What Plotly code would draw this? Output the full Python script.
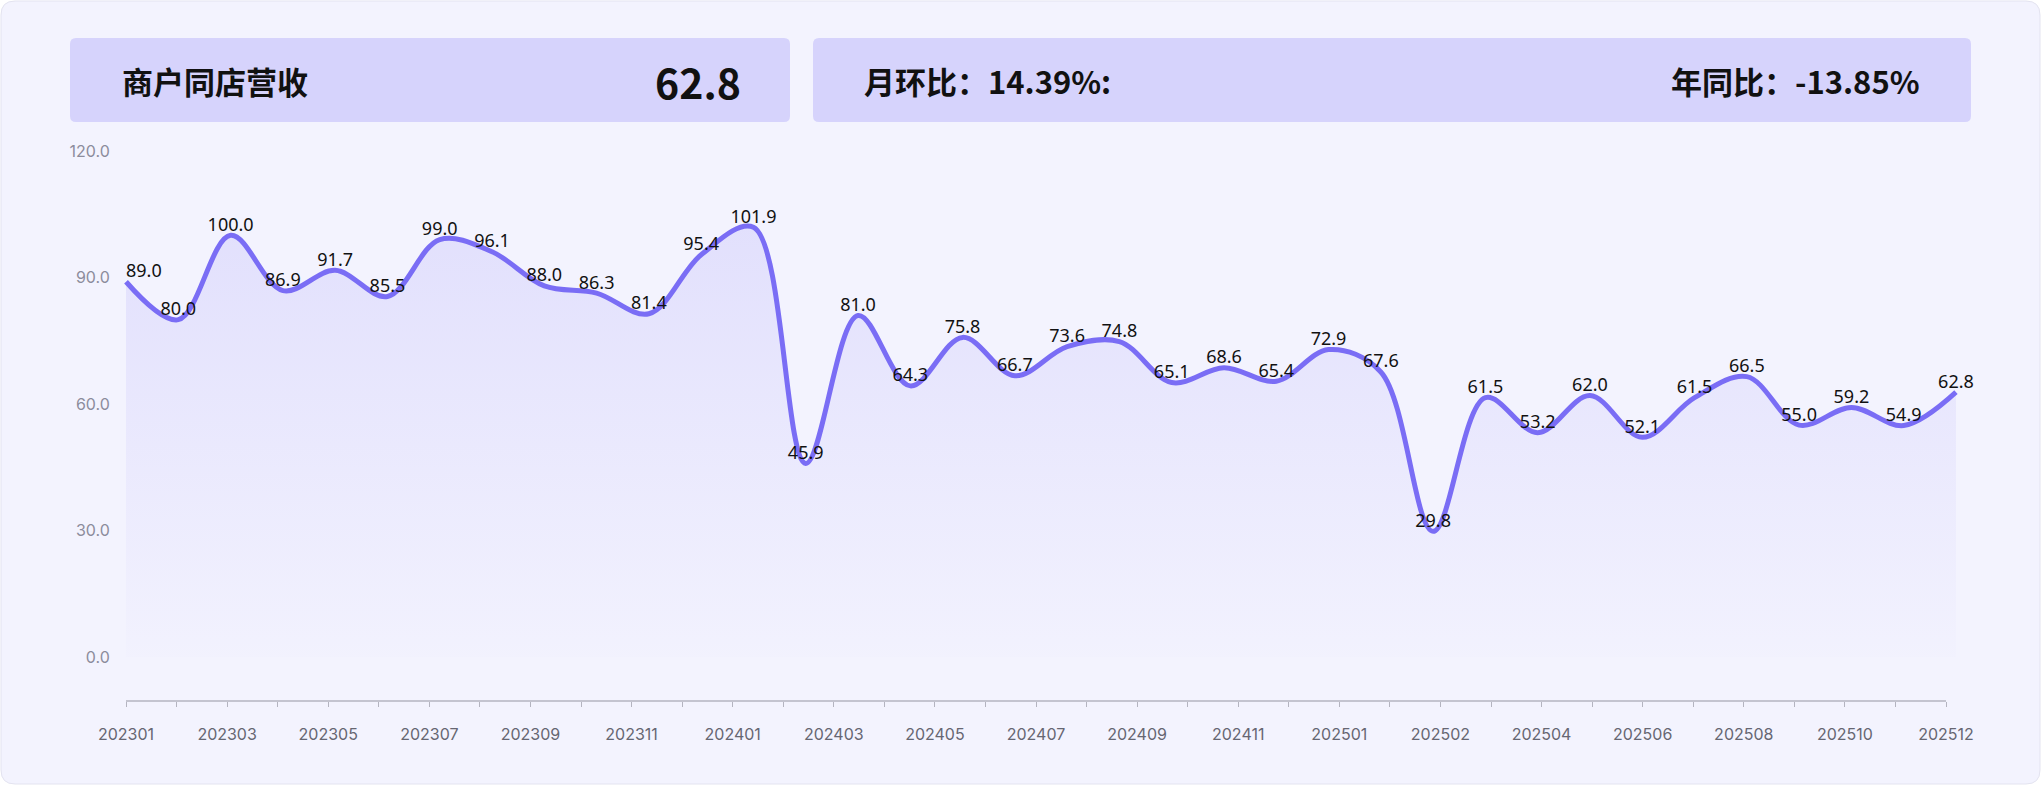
import plotly.graph_objects as go

# ---------------- data ----------------
months = [f"{y}{m:02d}" for y in (2023, 2024, 2025) for m in range(1, 13)]
revenue = [89.0, 80.0, 100.0, 86.9, 91.7, 85.5, 99.0, 96.1, 88.0, 86.3, 81.4, 95.4,
           101.9, 45.9, 81.0, 64.3, 75.8, 66.7, 73.6, 74.8, 65.1, 68.6, 65.4, 72.9,
           67.6, 29.8, 61.5, 53.2, 62.0, 52.1, 61.5, 66.5, 55.0, 59.2, 54.9, 62.8]
axis_tick_labels = ["202301", "", "202303", "", "202305", "", "202307", "", "202309", "",
                    "202311", "", "202401", "", "202403", "", "202405", "", "202407", "",
                    "202409", "", "202411", "", "202501", "", "202502", "", "202504", "",
                    "202506", "", "202508", "", "202510", "", "202512"]
y_ticks = [0, 30, 60, 90, 120]
kpi_title = "商户同店营收"
kpi_value = "62.8"
mom_text = "月环比：14.39%:"
yoy_text = "年同比：-13.85%"

# ---------------- layout constants ----------------
W, H = 2041, 785
PAGE_BG = "#F3F3FE"
CARD_BG = "#D6D3FC"
LINE = "#7A6DF5"


def px_x(x):
    return x / W


def px_y(y):
    return 1 - y / H


def rounded_rect(x0, y0, x1, y1, r):
    X0, X1 = px_x(x0), px_x(x1)
    Y0, Y1 = px_y(y0), px_y(y1)
    rx, ry = r / W, r / H
    return (f"M {X0+rx},{Y0} L {X1-rx},{Y0} Q {X1},{Y0} {X1},{Y0-ry} "
            f"L {X1},{Y1+ry} Q {X1},{Y1} {X1-rx},{Y1} L {X0+rx},{Y1} "
            f"Q {X0},{Y1} {X0},{Y1+ry} L {X0},{Y0-ry} Q {X0},{Y0} {X0+rx},{Y0} Z")


plot_left, plot_right = 120.8, 1961.2
plot_top, plot_bottom = 151, 701

text_pos = ["top right"] + ["top center"] * (len(revenue) - 1)

fig = go.Figure()
fig.add_trace(go.Scatter(
    x=months, y=revenue, mode="lines+text",
    line=dict(color=LINE, width=5, shape="spline", smoothing=1.0),
    fill="tozeroy",
    fillgradient=dict(type="vertical", start=0, stop=110,
                      colorscale=[[0, "rgba(122,108,244,0.01)"], [1, "rgba(122,108,244,0.15)"]]),
    text=[f"{v:.1f}" for v in revenue], textposition=text_pos,
    textfont=dict(family="Noto Sans, Inter", size=18, color="#111111"),
    cliponaxis=False, hoverinfo="skip", showlegend=False,
))

fig.add_trace(go.Scatter(x=[0, 36], y=[None, None], xaxis="x2", mode="lines",
                         showlegend=False, hoverinfo="skip"))

shapes = [
    dict(type="path", xref="paper", yref="paper", path=rounded_rect(1, 1, W - 1, H - 1, 14),
         fillcolor=PAGE_BG, line=dict(color="#E3E3F0", width=1), layer="below"),
    dict(type="path", xref="paper", yref="paper", path=rounded_rect(70, 38, 790, 122, 6),
         fillcolor=CARD_BG, line=dict(width=0), layer="below"),
    dict(type="path", xref="paper", yref="paper", path=rounded_rect(813, 38, 1971, 122, 6),
         fillcolor=CARD_BG, line=dict(width=0), layer="below"),
    dict(type="line", xref="x2", yref="paper", x0=0, x1=36,
         y0=px_y(plot_bottom), y1=px_y(plot_bottom), line=dict(color="#B4B4C0", width=1.5)),
]

cjk = "Noto Sans CJK SC"
annotations = [
    dict(text=f"<b>{kpi_title}</b>", x=px_x(120), y=px_y(81), xref="paper", yref="paper",
         xanchor="left", yanchor="middle", showarrow=False,
         font=dict(family=cjk, size=31, color="#111111")),
    dict(text=f"<b>{kpi_value}</b>", x=px_x(743), y=px_y(81), xref="paper", yref="paper",
         xanchor="right", yanchor="middle", showarrow=False,
         font=dict(family=cjk, size=41, color="#111111")),
    dict(text=f"<b>{mom_text}</b>", x=px_x(862), y=px_y(81), xref="paper", yref="paper",
         xanchor="left", yanchor="middle", showarrow=False,
         font=dict(family=cjk, size=31, color="#111111")),
    dict(text=f"<b>{yoy_text}</b>", x=px_x(1922), y=px_y(81), xref="paper", yref="paper",
         xanchor="right", yanchor="middle", showarrow=False,
         font=dict(family=cjk, size=31, color="#111111")),
]

x2_left = -(126 - plot_left) / ((1946 - 126) / 36)
x2_right = 36 + (plot_right - 1946) / ((1946 - 126) / 36)

fig.update_layout(
    width=W, height=H,
    margin=dict(l=0, r=0, t=0, b=0, pad=0, autoexpand=False),
    paper_bgcolor="white", plot_bgcolor="rgba(0,0,0,0)",
    shapes=shapes, annotations=annotations,
    xaxis=dict(domain=[px_x(plot_left), px_x(plot_right)], range=[-0.1, 35.1],
               type="category", visible=False, anchor="y", automargin=False),
    xaxis2=dict(domain=[px_x(plot_left), px_x(plot_right)], range=[x2_left, x2_right],
                overlaying="x", side="bottom", anchor="y", showgrid=False, zeroline=False,
                showline=False, tickmode="array", tickvals=list(range(len(axis_tick_labels))),
                ticktext=axis_tick_labels, ticks="outside", ticklen=5, tickwidth=1,
                tickcolor="#B4B4C0", ticklabelstandoff=14, automargin=False,
                tickfont=dict(family="Inter, Noto Sans", size=16, color="#666672")),
    yaxis=dict(domain=[px_y(plot_bottom), px_y(plot_top)], range=[-10.43, 120],
               tickvals=y_ticks, tickformat=".1f", showgrid=False, zeroline=False,
               showline=False, ticks="", ticklabelstandoff=10, automargin=False,
               tickfont=dict(family="Inter, Noto Sans", size=16, color="#8C8C9C")),
    hovermode=False,
)

fig.write_html("out.html")
